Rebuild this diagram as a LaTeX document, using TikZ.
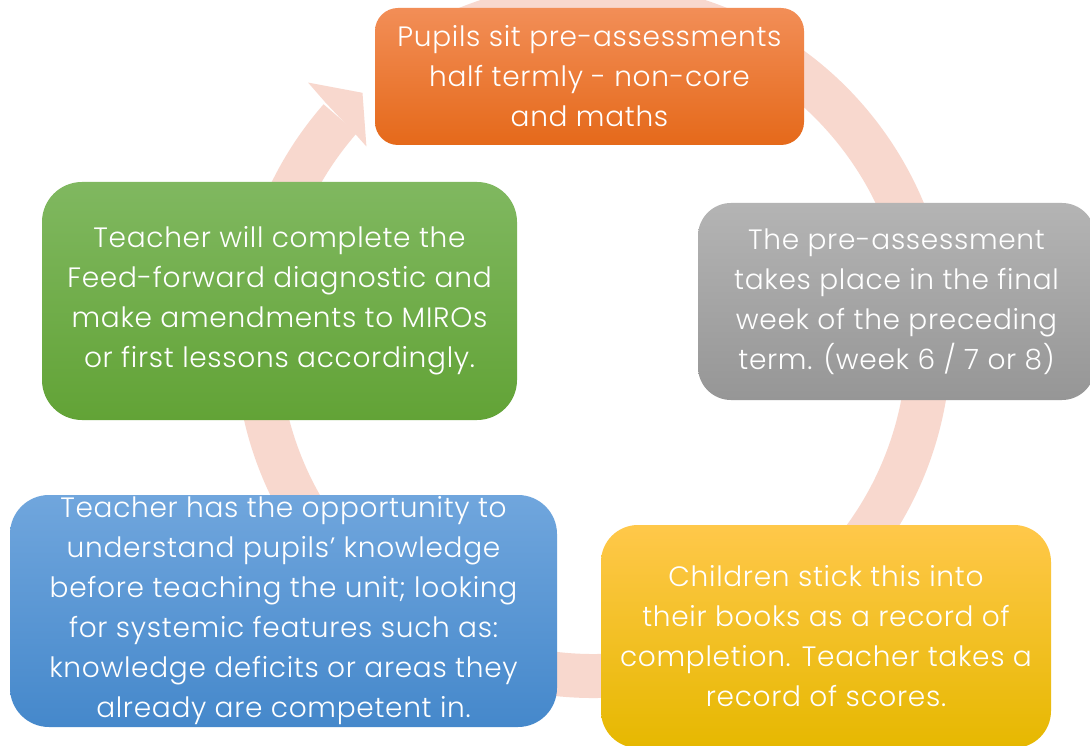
\documentclass[tikz,border=0pt]{standalone}
\usepackage{fontspec}
\setmainfont{Poppins}[UprightFont=* Light, LetterSpace=2.5]
\usetikzlibrary{calc}
\definecolor{ringc}{RGB}{248,216,206}
\definecolor{orT}{RGB}{242,142,87}
\definecolor{orB}{RGB}{229,105,26}
\definecolor{grT}{RGB}{128,184,96}
\definecolor{grB}{RGB}{98,163,54}
\definecolor{gyT}{RGB}{180,180,180}
\definecolor{gyB}{RGB}{150,150,150}
\definecolor{blT}{RGB}{112,166,221}
\definecolor{blB}{RGB}{69,136,203}
\definecolor{yeT}{RGB}{255,200,74}
\definecolor{yeB}{RGB}{230,184,0}
\tikzset{
  box/.style={inner sep=0pt, text=white, align=center,
    font=\fontsize{28}{40}\selectfont},
  ring/.style={draw=ringc, line width=44pt, line cap=butt},
}
\begin{document}
\begin{tikzpicture}[x=1pt,y=-1pt]
\path[use as bounding box, clip] (0,0) rectangle (1090,746);
\fill[white] (0,0) rectangle (1090,746);
\coordinate (C) at (593,340);
% circular arrow
\draw[ring] ($(C)+(-125:336)$) arc[start angle=-125, end angle=221.2, radius=336];
\fill[ringc] ($(C)+(-137.9:384)$) coordinate (barbo) -- ($(C)+(-133:338)$) coordinate (tip)
  -- ($(C)+(-139.5:298)$) coordinate (barbi) -- ($(C)+(-139.1:314)$) coordinate (notchi)
  -- ($(C)+(-138.4:358)$) coordinate (notcho) -- cycle;
% boxes
\node[box, minimum width=429pt, minimum height=137pt, rounded corners=23pt,
  top color=orT, bottom color=orB] (pupils) at (589.5,76.5)
  {Pupils sit pre-assessments\\half termly - non-core\\and maths};
\node[box, minimum width=397pt, minimum height=197pt, rounded corners=33pt,
  top color=gyT, bottom color=gyB] (week) at (896.5,301.5)
  {The pre-assessment\\takes place in the final\\week of the preceding\\term. (week 6 / 7 or 8)};
\node[box, minimum width=450pt, minimum height=223pt, rounded corners=37pt,
  top color=yeT, bottom color=yeB] (children) at (826,636.5)
  {Children stick this into\\their books as a record of\\completion. Teacher takes a\\record of scores.};
\node[box, minimum width=547pt, minimum height=232pt, rounded corners=39pt,
  top color=blT, bottom color=blB] (understand) at (283.5,611)
  {Teacher has the opportunity to\\understand pupils’ knowledge\\before teaching the unit; looking\\for systemic features such as:\\knowledge deficits or areas they\\already are competent in.};
\node[box, minimum width=475pt, minimum height=238pt, rounded corners=40pt,
  top color=grT, bottom color=grB] (feed) at (279.5,301)
  {Teacher will complete the\\Feed-forward diagnostic and\\make amendments to MIROs\\or first lessons accordingly.};
\end{tikzpicture}
\end{document}
